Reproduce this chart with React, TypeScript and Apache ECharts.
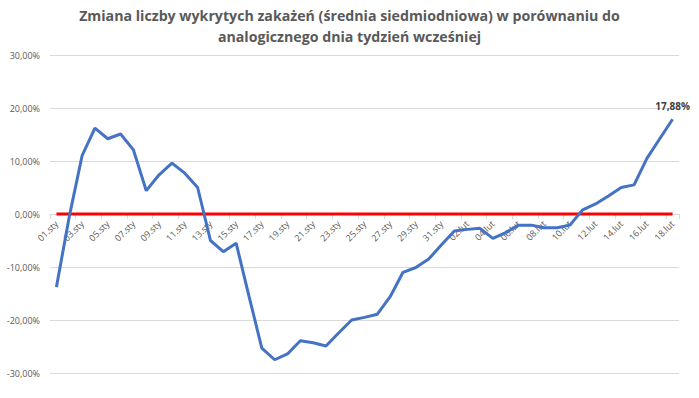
import React, { useEffect, useRef } from "react";
import * as echarts from "echarts";

const janDays: string[] = Array.from({ length: 31 }, (_, i) => String(i + 1).padStart(2, "0") + ".sty");
const febDays: string[] = Array.from({ length: 18 }, (_, i) => String(i + 1).padStart(2, "0") + ".lut");
const categories: string[] = [...janDays, ...febDays];

const changeValues: number[] = [
  -13.8, -0.5, 11.0, 16.2, 14.2, 15.1, 12.1, 4.4, 7.4, 9.6,
  7.7, 5.0, -5.0, -7.1, -5.5, -15.5, -25.3, -27.5, -26.4, -23.9,
  -24.3, -24.9, -22.4, -20.0, -19.5, -18.9, -15.6, -11.0, -10.1, -8.5,
  -5.8, -3.2, -2.9, -2.7, -4.6, -3.5, -2.1, -2.1, -2.6, -2.6,
  -2.1, 0.8, 1.9, 3.4, 5.0, 5.5, 10.5, 14.2, 17.88,
];

const zeroLine: number[] = categories.map(() => 0);

const titleText = "Zmiana liczby wykrytych zakażeń (średnia siedmiodniowa) w porównaniu do\nanalogicznego dnia tydzień wcześniej";

const fmt = (v: number) => v.toFixed(2).replace(".", ",") + "%";

const GRID_TOP = 55;
const GRID_BOTTOM = 25;
const CHART_H = 398;
const Y_MIN = -30;
const Y_MAX = 30;

export default function App() {
  const ref = useRef<HTMLDivElement>(null);
  useEffect(() => {
    if (!ref.current) return;
    const chart = echarts.init(ref.current, null, { renderer: "svg" });
    const lastIdx = changeValues.length - 1;
    const plotH = CHART_H - GRID_TOP - GRID_BOTTOM;
    const zeroOffset = -(plotH * (0 - Y_MIN)) / (Y_MAX - Y_MIN);
    chart.setOption({
      animation: false,
      backgroundColor: "#ffffff",
      title: {
        text: titleText,
        left: "center",
        top: 0,
        textStyle: {
          fontFamily: "Open Sans",
          fontWeight: "bold",
          fontSize: 14.2,
          color: "#595959",
          lineHeight: 21,
        },
      },
      grid: { left: 50, right: 20, top: GRID_TOP, bottom: GRID_BOTTOM, containLabel: false },
      xAxis: {
        type: "category",
        data: categories,
        boundaryGap: true,
        position: "bottom",
        offset: zeroOffset,
        axisLine: { onZero: false, lineStyle: { color: "#d9d9d9" } },
        axisTick: { show: true, lineStyle: { color: "#d9d9d9" } },
        axisLabel: {
          interval: 1,
          rotate: 45,
          fontSize: 9,
          color: "#595959",
          fontFamily: "Open Sans",
          margin: 8,
        },
        splitLine: { show: false },
      },
      yAxis: {
        type: "value",
        min: Y_MIN,
        max: Y_MAX,
        interval: 10,
        axisLine: { show: false },
        axisTick: { show: false },
        axisLabel: {
          formatter: (v: number) => fmt(v),
          fontSize: 9,
          color: "#595959",
          fontFamily: "Open Sans",
          margin: 10,
        },
        splitLine: { lineStyle: { color: "#d9d9d9", width: 1 } },
      },
      series: [
        {
          type: "line",
          data: zeroLine,
          symbol: "none",
          lineStyle: { color: "#ff0000", width: 3 },
          z: 2,
        },
        {
          type: "line",
          showSymbol: true,
          showAllSymbol: true,
          symbol: "circle",
          symbolSize: 1,
          itemStyle: { color: "rgba(0,0,0,0)", borderWidth: 0 },
          label: { show: false },
          data: changeValues.map((v, i) =>
            i === lastIdx
              ? {
                  value: v,
                  label: {
                    show: true,
                    position: "top",
                    distance: 8,
                    formatter: () => fmt(v),
                    fontWeight: "bold",
                    fontSize: 10,
                    color: "#404040",
                    fontFamily: "Open Sans",
                  },
                }
              : v
          ),
          lineStyle: { color: "#4472c4", width: 3 },
          emphasis: { disabled: true },
          z: 3,
        },
      ],
    });
    return () => chart.dispose();
  }, []);
  return (
    <div
      ref={ref}
      style={{ position: "fixed", left: 0, top: 0, width: 699, height: 398 }}
    />
  );
}
